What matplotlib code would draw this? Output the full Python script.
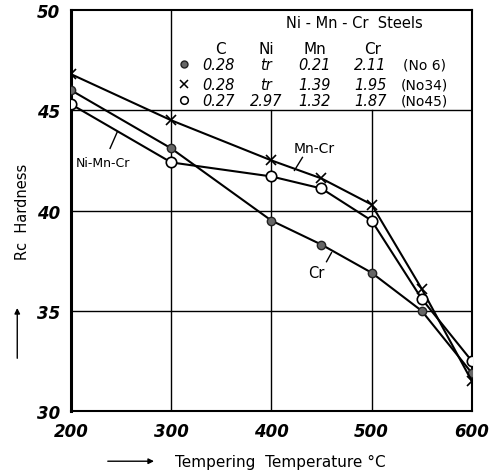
import numpy as np
import matplotlib.pyplot as plt

# Tempering temperatures (deg C)
temps = [200, 300, 400, 450, 500, 550, 600]

# Rc hardness for each steel
cr_steel = [46.0, 43.1, 39.5, 38.3, 36.9, 35.0, 31.9]      # No 6, filled dots
mn_cr_steel = [46.8, 44.5, 42.5, 41.6, 40.3, 36.1, 31.5]   # No 34, crosses
ni_mn_cr_steel = [45.3, 42.4, 41.7, 41.1, 39.5, 35.6, 32.5]  # No 45, open circles

# composition table
comp_header = ['C', 'Ni', 'Mn', 'Cr']
comp_rows = [
    ['0.28', 'tr', '0.21', '2.11', '(No 6)'],
    ['0.28', 'tr', '1.39', '1.95', '(No34)'],
    ['0.27', '2.97', '1.32', '1.87', '(No45)'],
]

fig = plt.figure(figsize=(4.93, 4.77), dpi=100)
ax = fig.add_axes([0.144, 0.136, 0.813, 0.841])
ax.set_xlim(200, 600)
ax.set_ylim(30, 50)

# grid: 400/500 stop at the table, 300 goes all the way
ax.axvline(300, color='black', lw=1.0)
for t in [400, 500]:
    ax.axvline(t, ymax=0.75, color='black', lw=1.0)
for h in [35, 40, 45]:
    ax.axhline(h, color='black', lw=1.0)

for s in ax.spines.values():
    s.set_linewidth(1.5)
ax.spines['left'].set_linewidth(2.2)

ax.plot(temps, cr_steel, color='black', lw=1.5, marker='o', ms=6,
        mfc='#666666', mec='#222222', zorder=3)
ax.plot(temps, mn_cr_steel, color='black', lw=1.5, marker='x', ms=7.5,
        mew=1.2, zorder=3)
ax.plot(temps, ni_mn_cr_steel, color='black', lw=1.5, marker='o', ms=7.5,
        mfc='white', mec='black', mew=1.2, zorder=4)

ax.set_xticks([200, 300, 400, 500, 600])
ax.set_yticks([30, 35, 40, 45, 50])
ax.tick_params(length=0, labelsize=12, pad=8)
for lb in ax.get_xticklabels() + ax.get_yticklabels():
    lb.set_fontstyle('italic')
    lb.set_fontweight('bold')

# curve labels with little leader lines
ax.text(232, 42.4, 'Ni-Mn-Cr', fontsize=9, ha='center', va='center')
ax.plot([246, 239], [43.9, 43.1], color='black', lw=1)
ax.text(443, 43.1, 'Mn-Cr', fontsize=10, ha='center', va='center')
ax.plot([431, 423], [42.65, 42.0], color='black', lw=1)
ax.text(445, 36.9, 'Cr', fontsize=10.5, ha='center', va='center')
ax.plot([460, 455], [37.9, 37.45], color='black', lw=1)

# composition table inside upper right
ax.text(483, 49.4, 'Ni - Mn - Cr  Steels', fontsize=10.5, ha='center', va='center')
hx = [349, 395, 443, 501]
for x, t in zip(hx, comp_header):
    ax.text(x, 48.1, t, fontsize=11, ha='center', va='center')
row_y = [47.3, 46.3, 45.5]
mk = [dict(marker='o', ms=5, mfc='#666666', mec='#222222'),
      dict(marker='x', ms=5.5, mec='black', mew=1.1),
      dict(marker='o', ms=5.5, mfc='white', mec='black', mew=1.1)]
for y, row, m in zip(row_y, comp_rows, mk):
    ax.plot([313], [y], color='black', ls='none', clip_on=False, **m)
    for x, t in zip([347, 395, 443, 499], row[:4]):
        ax.text(x, y, t, fontsize=10.5, ha='center', va='center', fontstyle='italic')
    ax.text(553, y, row[4], fontsize=10, ha='center', va='center')

# axis labels with arrows
fig.text(0.045, 0.555, 'Rc  Hardness', rotation=90, fontsize=10.5, ha='center', va='center')
ax.annotate('', xy=(0.035, 0.358), xytext=(0.035, 0.241), xycoords='figure fraction',
            textcoords='figure fraction',
            arrowprops=dict(arrowstyle='-|>', color='black', lw=1, mutation_scale=8))
fig.text(0.355, 0.031, 'Tempering  Temperature °C', fontsize=11, ha='left', va='center')
ax.annotate('', xy=(0.318, 0.031), xytext=(0.213, 0.031), xycoords='figure fraction',
            textcoords='figure fraction',
            arrowprops=dict(arrowstyle='-|>', color='black', lw=1, mutation_scale=8))

fig.savefig('out.png', dpi=100)
